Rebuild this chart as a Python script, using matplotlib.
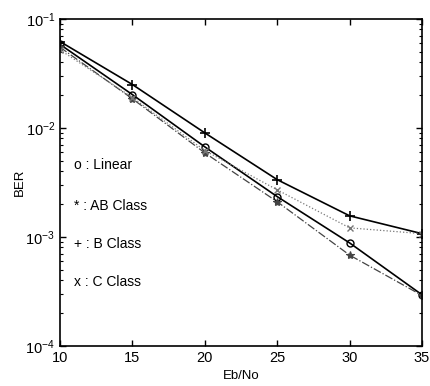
import matplotlib
matplotlib.use("Agg")
import matplotlib.pyplot as plt
from matplotlib.ticker import LogLocator, LogFormatterMathtext, NullFormatter

plt.rcParams['font.family'] = ['Liberation Sans', 'DejaVu Sans']
plt.rcParams['mathtext.fontset'] = 'custom'
plt.rcParams['mathtext.rm'] = 'Liberation Sans'
plt.rcParams['mathtext.it'] = 'Liberation Sans'

ebno = [10, 15, 20, 25, 30, 35]
ber_linear = [0.0584, 0.0202, 0.0067, 0.00234, 0.00088, 0.000294]
ber_ab = [0.055, 0.0185, 0.0059, 0.0021, 0.00068, 0.00029]
ber_b = [0.062, 0.025, 0.009, 0.00335, 0.00156, 0.00107]
ber_c = [0.052, 0.019, 0.0062, 0.0027, 0.00121, 0.00107]
legend_texts = ['o : Linear', '* : AB Class', '+ : B Class', 'x : C Class']

fig = plt.figure(figsize=(4.3, 3.86), dpi=100)
ax = fig.add_axes([0.1395, 0.104, 0.842, 0.847])

ax.semilogy(ebno, ber_linear, color='black', lw=1.2, marker='o', ms=5, mfc='none', mew=1.0)
ax.semilogy(ebno, ber_ab, color='#444444', lw=0.9, ls='-.', marker='*', ms=6, mew=0.8)
ax.semilogy(ebno, ber_b, color='black', lw=1.2, marker='+', ms=7, mew=1.2)
ax.semilogy(ebno, ber_c, color='#777777', lw=0.9, ls=':', marker='x', ms=5, mew=1.0)

ax.set_xlim(10, 35)
ax.set_ylim(1e-4, 1e-1)
ax.set_xticks([10, 15, 20, 25, 30, 35])
ax.yaxis.set_major_locator(LogLocator(base=10, numticks=10))
ax.yaxis.set_major_formatter(LogFormatterMathtext())
ax.yaxis.set_minor_locator(LogLocator(base=10, subs=range(2, 10), numticks=20))
ax.yaxis.set_minor_formatter(NullFormatter())
ax.tick_params(which='both', direction='in', top=True, right=True, labelsize=10.5)
ax.tick_params(which='major', length=4, width=1)
ax.tick_params(which='minor', length=2, width=0.8)
for s in ax.spines.values():
    s.set_linewidth(1.2)

ax.set_xlabel('Eb/No', fontsize=9.5, labelpad=4)
ax.set_ylabel('BER', fontsize=9.5, labelpad=0)

ys = [0.553, 0.428, 0.312, 0.196]
for t, y in zip(legend_texts, ys):
    ax.text(0.039, y, t, transform=ax.transAxes, fontsize=10, va='center', ha='left')

fig.savefig('out.png', dpi=100)
